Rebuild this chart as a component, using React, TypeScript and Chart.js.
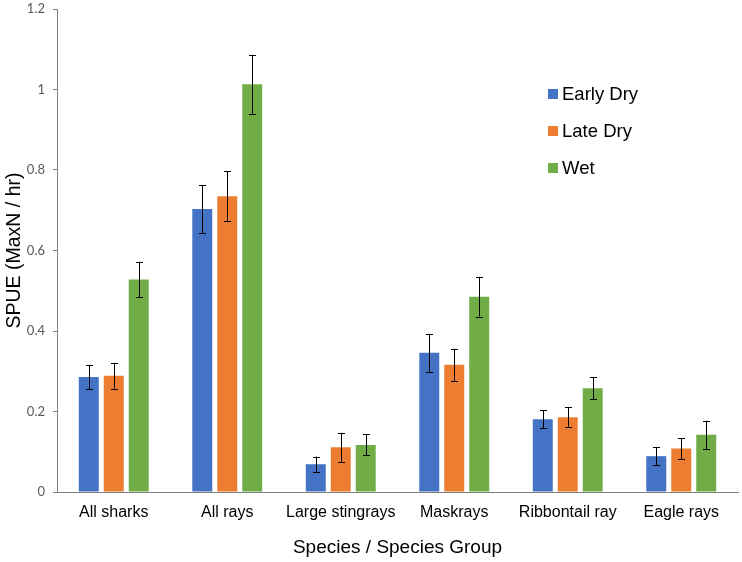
import React, { useEffect, useRef } from "react";
import { Chart, registerables } from "chart.js";

Chart.register(...registerables);

const categories = ["All sharks", "All rays", "Large stingrays", "Maskrays", "Ribbontail ray", "Eagle rays"];
const seriesNames = ["Early Dry", "Late Dry", "Wet"];
const earlyDry = [0.286, 0.703, 0.069, 0.346, 0.181, 0.089];
const lateDry = [0.289, 0.735, 0.111, 0.316, 0.186, 0.108];
const wet = [0.528, 1.013, 0.117, 0.485, 0.258, 0.142];
const earlyDryErr = [0.030, 0.060, 0.019, 0.047, 0.022, 0.022];
const lateDryErr = [0.032, 0.062, 0.036, 0.040, 0.024, 0.026];
const wetErr = [0.044, 0.073, 0.026, 0.049, 0.027, 0.035];
const colors = ["#4472C4", "#ED7D31", "#70AD47"];
const yTicks = [0, 0.2, 0.4, 0.6, 0.8, 1, 1.2];

const errors = [earlyDryErr, lateDryErr, wetErr];

const errorBarPlugin = {
  id: "errorBars",
  afterDatasetsDraw(chart: any) {
    const ctx = chart.ctx;
    const y = chart.scales.y;
    ctx.save();
    ctx.strokeStyle = "#000000";
    ctx.lineWidth = 1;
    chart.data.datasets.forEach((ds: any, di: number) => {
      const meta = chart.getDatasetMeta(di);
      meta.data.forEach((el: any, i: number) => {
        const v = ds.data[i];
        const e = errors[di][i];
        const x = Math.round(el.x) + 0.5;
        const yt = y.getPixelForValue(v + e);
        const yb = y.getPixelForValue(v - e);
        ctx.beginPath();
        ctx.moveTo(x, yt);
        ctx.lineTo(x, yb);
        ctx.moveTo(x - 3.5, Math.round(yt) + 0.5);
        ctx.lineTo(x + 3.5, Math.round(yt) + 0.5);
        ctx.moveTo(x - 3.5, Math.round(yb) + 0.5);
        ctx.lineTo(x + 3.5, Math.round(yb) + 0.5);
        ctx.stroke();
      });
    });
    ctx.restore();
  },
};

const legendPlugin = {
  id: "customLegend",
  afterDraw(chart: any) {
    const ctx = chart.ctx;
    ctx.save();
    ctx.font = '18.5px "Liberation Sans", Arial, sans-serif';
    ctx.textBaseline = "middle";
    ctx.textAlign = "left";
    seriesNames.forEach((name, i) => {
      const cy = 94 + i * 37;
      ctx.fillStyle = colors[i];
      ctx.fillRect(548, cy - 5, 10, 10);
      ctx.fillStyle = "#000000";
      ctx.fillText(name, 562, cy + 1);
    });
    ctx.restore();
  },
};

export default function App() {
  const ref = useRef<HTMLCanvasElement | null>(null);
  useEffect(() => {
    if (!ref.current) return;
    const chart = new Chart(ref.current, {
      type: "bar",
      data: {
        labels: categories,
        datasets: [earlyDry, lateDry, wet].map((d, i) => ({
          label: seriesNames[i],
          data: d,
          backgroundColor: colors[i],
          categoryPercentage: 0.66,
          barPercentage: 0.8,
        })),
      },
      options: {
        responsive: false,
        animation: false,
        layout: { padding: { top: 9, right: 4, left: 0, bottom: 0 } },
        plugins: {
          legend: { display: false },
          tooltip: { enabled: false },
        },
        scales: {
          x: {
            grid: { display: false, drawTicks: false },
            border: { display: true, color: "#7f7f7f", width: 1 },
            ticks: {
              color: "#000000",
              padding: 11,
              font: { family: '"Liberation Sans", Arial, sans-serif', size: 16 },
              maxRotation: 0,
              autoSkip: false,
            },
            title: {
              display: true,
              text: "Species / Species Group",
              color: "#000000",
              font: { family: '"Liberation Sans", Arial, sans-serif', size: 19 },
              padding: { top: 4, bottom: 3 },
            },
            afterFit(scale: any) {
              scale.height = 70;
              scale.paddingLeft = 0;
              scale.paddingRight = 0;
            },
          },
          y: {
            min: 0,
            max: 1.2,
            afterBuildTicks(scale: any) {
              scale.ticks = yTicks.map((v) => ({ value: v }));
            },
            grid: { display: true, drawOnChartArea: false, drawTicks: true, tickLength: 4, color: "#7f7f7f" },
            border: { display: true, color: "#7f7f7f", width: 1 },
            ticks: {
              color: "#595959",
              padding: 8,
              font: { family: "Lato, 'Open Sans', sans-serif", size: 13 },
              callback: (v: any) => String(Math.round(Number(v) * 10) / 10),
            },
            title: {
              display: true,
              text: "SPUE (MaxN / hr)",
              color: "#000000",
              font: { family: '"Liberation Sans", Arial, sans-serif', size: 19.5 },
              padding: { top: 3, bottom: 4 },
            },
            afterFit(scale: any) {
              scale.width = 57;
              scale.paddingTop = 0;
              scale.paddingBottom = 0;
            },
          },
        },
      },
      plugins: [errorBarPlugin, legendPlugin],
    });
    return () => chart.destroy();
  }, []);
  return (
    <div style={{ position: "fixed", left: 0, top: 0, width: 742, height: 562, background: "#fff" }}>
      <canvas ref={ref} width={742} height={562} style={{ width: 742, height: 562 }} />
    </div>
  );
}
